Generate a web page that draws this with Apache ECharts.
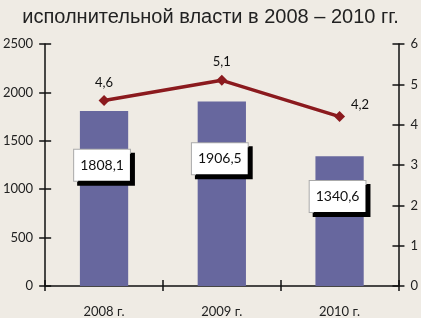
<!DOCTYPE html>
<html><head><meta charset="utf-8">
<script src="https://cdn.jsdelivr.net/npm/echarts@6/dist/echarts.min.js"></script>
<style>html,body{margin:0;padding:0;background:#efebe4;}#c{width:421px;height:318px;}</style>
</head><body><div id="c"></div>
<script>
var titleText = 'исполнительной власти в 2008 – 2010 гг.';
var categories = ['2008 г.', '2009 г.', '2010 г.'];
var barValues = [1808.1, 1906.5, 1340.6];
var lineValues = [4.6, 5.1, 4.2];
var leftTicks = [0, 500, 1000, 1500, 2000, 2500];
var rightTicks = [0, 1, 2, 3, 4, 5, 6];

function fmt(v){ return String(v).replace('.', ','); }
var chart = echarts.init(document.getElementById('c'));
var font = 'Lato, "Open Sans", sans-serif';
var axisLine = {show:true, lineStyle:{color:'#111', width:1.5}};
var tickStyle = {color:'#111', width:1.5};
chart.setOption({
  backgroundColor:'#efebe4',
  animation:false,
  title:{text:titleText, left:'center', top:2, textStyle:{fontFamily:'"Liberation Sans", Arial, sans-serif', fontSize:20, fontWeight:'normal', color:'#222'}},
  grid:{left:44, right:21, top:44, bottom:31},
  xAxis:[
    {type:'category', data:categories, axisLine:axisLine, axisTick:{show:true, length:5, lineStyle:tickStyle}, axisLabel:{margin:19, fontFamily:font, fontSize:13, color:'#222'}},
    {type:'category', data:categories, position:'bottom', axisLine:{show:false}, axisTick:{show:true, inside:true, length:6, lineStyle:tickStyle}, axisLabel:{show:false}}
  ],
  yAxis:[
    {type:'value', min:leftTicks[0], max:leftTicks[leftTicks.length-1], interval:500, position:'left', axisLine:axisLine, axisTick:{show:true, length:6, lineStyle:tickStyle}, splitLine:{show:false}, axisLabel:{margin:12, formatter:function(v){return String(v);}, fontFamily:font, fontSize:13, color:'#222'}},
    {type:'value', min:rightTicks[0], max:rightTicks[rightTicks.length-1], interval:1, position:'right', axisLine:axisLine, axisTick:{show:true, length:6, lineStyle:tickStyle}, splitLine:{show:false}, axisLabel:{margin:12, formatter:function(v){return String(v);}, fontFamily:font, fontSize:13, color:'#222'}},
    {type:'value', min:0, max:2500, interval:500, position:'left', axisLine:{show:false}, axisTick:{show:true, inside:true, length:6, lineStyle:tickStyle}, splitLine:{show:false}, axisLabel:{show:false}},
    {type:'value', min:0, max:6, interval:1, position:'right', axisLine:{show:false}, axisTick:{show:true, inside:true, length:6, lineStyle:tickStyle}, splitLine:{show:false}, axisLabel:{show:false}}
  ],
  series:[
    {type:'bar', xAxisIndex:0, yAxisIndex:0, barWidth:'41%', itemStyle:{color:'#67679e'},
     data: barValues.map(function(v){return {value:v};}),
     label:{show:true, position:['50%','31%'], align:'center', verticalAlign:'middle', offset:[-2,0],
       formatter:function(p){return fmt(p.value);}, fontFamily:font, fontSize:14, color:'#111',
       backgroundColor:'#fff', borderColor:'#aaa', borderWidth:1, padding:[9,6,8,6],
       shadowColor:'#000', shadowOffsetX:4, shadowOffsetY:4, shadowBlur:0}},
    {type:'line', xAxisIndex:0, yAxisIndex:1, symbol:'diamond', symbolSize:11, lineStyle:{color:'#8b1a1e', width:3.5}, itemStyle:{color:'#8b1a1e'},
     data: lineValues.map(function(v,i){ var d={value:v}; if(i===lineValues.length-1){ d.label={position:'right', offset:[0,-12]}; } return d; }),
     label:{show:true, position:'top', distance:6, formatter:function(p){return fmt(p.value);}, fontFamily:font, fontSize:13, color:'#111'}}
  ]
});
</script></body></html>
